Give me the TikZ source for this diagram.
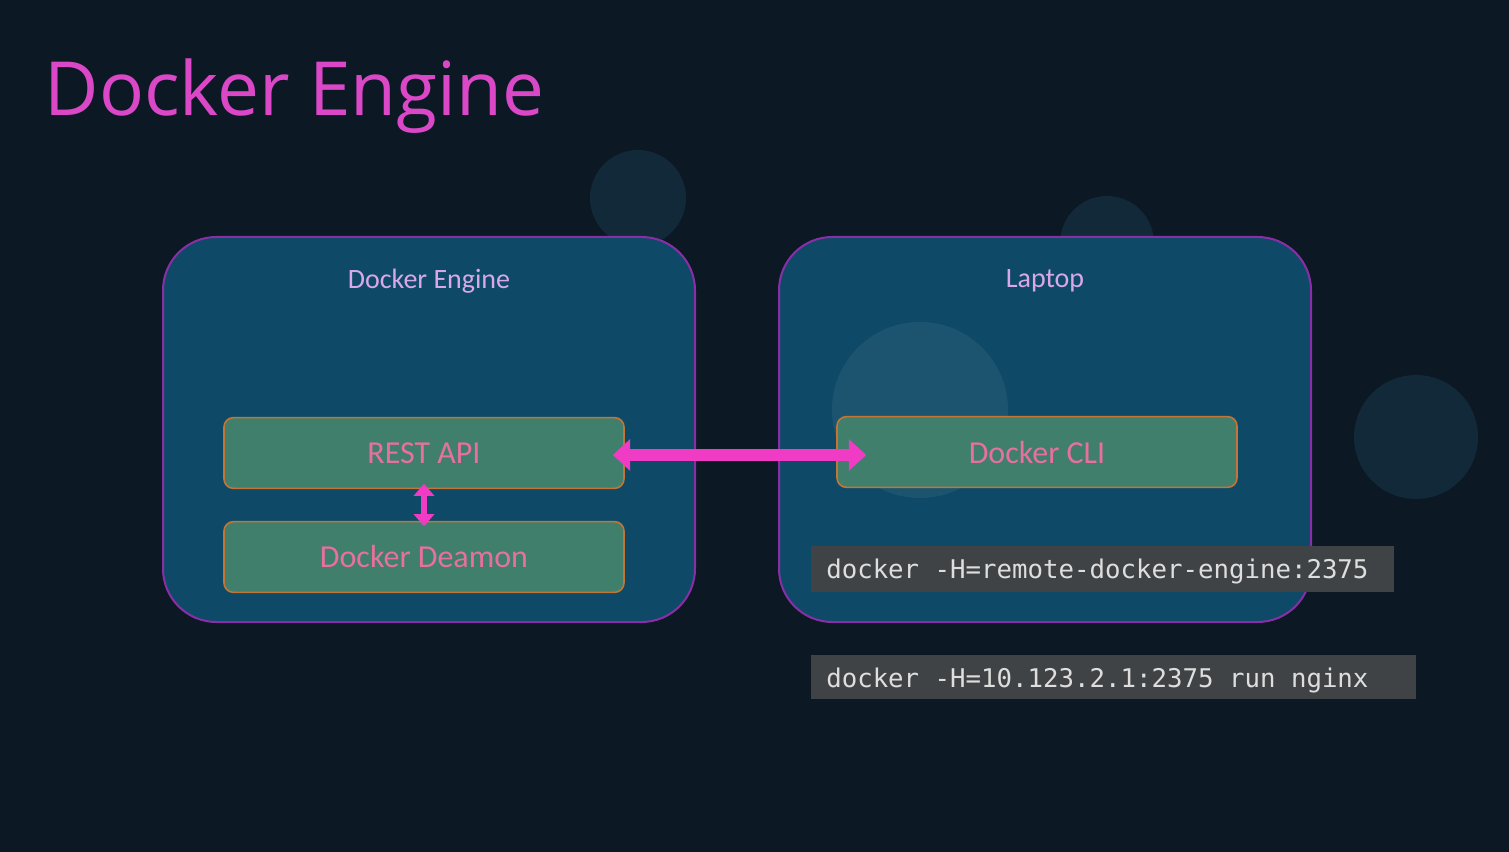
\documentclass[tikz,border=0pt]{standalone}
\usepackage{fontspec}
\setmainfont{Carlito}
\newfontfamily\titlefont{Open Sans}
\newfontfamily\codefont{DejaVu Sans Mono}
\usetikzlibrary{arrows.meta}
\definecolor{bgcol}{HTML}{0C1824}
\definecolor{circcol}{HTML}{12293A}
\definecolor{panelfill}{HTML}{0E4A68}
\definecolor{panelline}{HTML}{8A2EA8}
\definecolor{greenfill}{HTML}{3F7F6C}
\definecolor{greenline}{HTML}{C47434}
\definecolor{pinktext}{HTML}{E8709E}
\definecolor{titlecol}{HTML}{DA48C8}
\definecolor{arrowcol}{HTML}{F03CC4}
\definecolor{codefill}{HTML}{404346}
\definecolor{codetext}{HTML}{DEDEDE}
\definecolor{labeltext}{HTML}{D8A8E8}
\tikzset{
  panel/.style={draw=panelline, line width=1.5pt, fill=panelfill, rounded corners=40pt},
  greenbox/.style={draw=greenline, line width=1.2pt, fill=greenfill, rounded corners=7pt,
     minimum width=300pt, minimum height=53pt, text=pinktext, font=\fontsize{24}{28}\selectfont},
  panellabel/.style={text=labeltext, font=\fontsize{21}{25}\selectfont},
  codebox/.style={fill=codefill, text=codetext, font=\codefont\fontsize{19.3}{23}\selectfont, anchor=west, inner sep=0pt},
}
\begin{document}
\begin{tikzpicture}[x=0.75pt,y=-0.75pt]
\fill[bgcol] (0,0) rectangle (1509,852);
\useasboundingbox (0,0) rectangle (1509,852);
% faint background circles
\fill[circcol] (638,198) circle (48);
\fill[circcol] (1107,243) circle (47);
\fill[circcol] (1416,437) circle (62);
% title
\node[anchor=west, text=titlecol, font=\titlefont\fontsize{56}{64}\selectfont] (title) at (40,96) {Docker Engine};
% panels
\draw[panel] (163,237) rectangle (695,622);
\draw[panel] (779,237) rectangle (1311,622);
\fill[white, opacity=0.06] (920,410) circle (88);
\node[panellabel] (lblengine) at (429,281) {Docker Engine};
\node[panellabel] (lbllaptop) at (1045,281) {Laptop};
% green boxes
\node[greenbox] (rest) at (424,453) {REST API};
\node[greenbox] (daemon) at (424,557) {Docker Deamon};
\node[greenbox] (cli) at (1037,452) {Docker CLI};
% arrows
\draw[arrowcol, line width=9pt, {Triangle[length=13pt,width=23pt]}-{Triangle[length=13pt,width=23pt]}] (rest.east) ++(-12,2) coordinate (ra) -- (ra -| cli.west) -- ++(30,0) coordinate (cb);
\draw[arrowcol, line width=5pt, {Triangle[length=9pt,width=15pt]}-{Triangle[length=9pt,width=15pt]}] ([yshift=4]rest.south) -- ([yshift=-4]daemon.north);
% code boxes
\fill[codefill] (811,546) rectangle (1394,592);
\node[codebox] (code1) at (826,571) {docker -H=remote-docker-engine:2375};
\fill[codefill] (811,655) rectangle (1416,699);
\node[codebox] (code2) at (826,680) {docker -H=10.123.2.1:2375 run nginx};
\end{tikzpicture}
\end{document}
